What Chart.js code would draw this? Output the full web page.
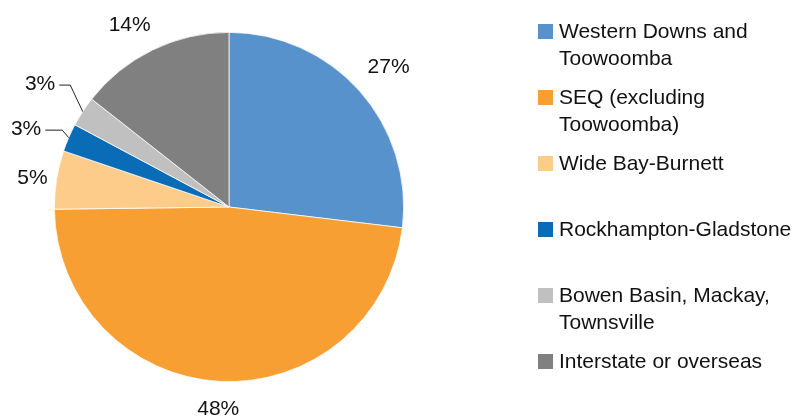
<!DOCTYPE html>
<html lang="en">
<head>
    <meta charset="UTF-8">
    <title>Origin share</title>
    <script src="https://cdn.jsdelivr.net/npm/chart.js"></script>
    <style>
        body { margin: 0; background: #fff; }
        #pieChart { display: block; }
    </style>
</head>
<body>
    <canvas id="pieChart" width="796" height="416"></canvas>
    <script>
        // data (percent of total)
        const categories = [
            ['Western Downs and', 'Toowoomba'],
            ['SEQ (excluding', 'Toowoomba)'],
            ['Wide Bay-Burnett'],
            ['Rockhampton-Gladstone'],
            ['Bowen Basin, Mackay,', 'Townsville'],
            ['Interstate or overseas']
        ];
        const shares = [26.9, 47.9, 5.4, 2.6, 2.8, 14.4];
        const colours = ['#5892CD', '#F89F33', '#FDCC8B', '#0A6CB7', '#C0C0C0', '#808080'];

        const FONT = '21px "Liberation Sans", Arial, sans-serif';

        // how each percentage label sits: plain ones at a distance from the centre
        // (plus a small nudge), the two thin slices get a leader line
        const labelLayout = [
            { dist: 212, nudge: [1, 1] },
            { dist: 202, nudge: [0, 0] },
            { dist: 199, nudge: [0, 2] },
            { elbow: [-6.5, -7.5], arm: 17 },
            { elbow: [-12.5, -26.5], arm: 11 },
            { dist: 209, nudge: [-8, 6] }
        ];

        const pieLabels = {
            id: 'pieLabels',
            afterDraw(chart) {
                const ctx = chart.ctx;
                const arcs = chart.getDatasetMeta(0).data;
                const values = chart.data.datasets[0].data;
                const total = values.reduce((a, b) => a + b, 0);

                ctx.save();
                ctx.font = FONT;
                ctx.fillStyle = '#111';
                ctx.strokeStyle = '#222';
                ctx.lineWidth = 1;
                arcs.forEach((arc, i) => {
                    const text = Math.round(values[i] / total * 100) + '%';
                    const mid = (arc.startAngle + arc.endAngle) / 2;
                    const lay = labelLayout[i];
                    if (lay.dist) {
                        ctx.textAlign = 'center';
                        ctx.textBaseline = 'middle';
                        ctx.fillText(text,
                            arc.x + Math.cos(mid) * lay.dist + lay.nudge[0],
                            arc.y + Math.sin(mid) * lay.dist + lay.nudge[1]);
                    } else {
                        const px = arc.x + Math.cos(mid) * arc.outerRadius;
                        const py = arc.y + Math.sin(mid) * arc.outerRadius;
                        const ex = px + lay.elbow[0];
                        const ey = py + lay.elbow[1];
                        ctx.beginPath();
                        ctx.moveTo(px, py);
                        ctx.lineTo(ex, ey);
                        ctx.lineTo(ex - lay.arm, ey);
                        ctx.stroke();
                        ctx.textAlign = 'right';
                        ctx.textBaseline = 'middle';
                        ctx.fillText(text, ex - lay.arm - 4, ey - 1);
                    }
                });
                ctx.restore();
            }
        };

        // legend on the right, one slot per item
        const sideLegend = {
            id: 'sideLegend',
            afterDraw(chart) {
                const ctx = chart.ctx;
                const cols = chart.data.datasets[0].backgroundColor;
                ctx.save();
                ctx.font = FONT;
                ctx.textAlign = 'left';
                ctx.textBaseline = 'alphabetic';
                chart.data.labels.forEach((lines, i) => {
                    const top = 24 + i * 66;
                    ctx.fillStyle = cols[i];
                    ctx.fillRect(538, top, 15, 15);
                    ctx.fillStyle = '#111';
                    lines.forEach((line, j) => {
                        ctx.fillText(line, 559, top + 14 + j * 26.5);
                    });
                });
                ctx.restore();
            }
        };

        new Chart(document.getElementById('pieChart'), {
            type: 'pie',
            data: {
                labels: categories,
                datasets: [{
                    data: shares,
                    backgroundColor: colours,
                    borderColor: '#ffffff',
                    borderWidth: 0.75
                }]
            },
            options: {
                responsive: false,
                animation: false,
                layout: { padding: { left: 54, right: 392, top: 32, bottom: 34 } },
                plugins: {
                    legend: { display: false },
                    tooltip: { enabled: false }
                }
            },
            plugins: [pieLabels, sideLegend]
        });
    </script>
</body>
</html>
